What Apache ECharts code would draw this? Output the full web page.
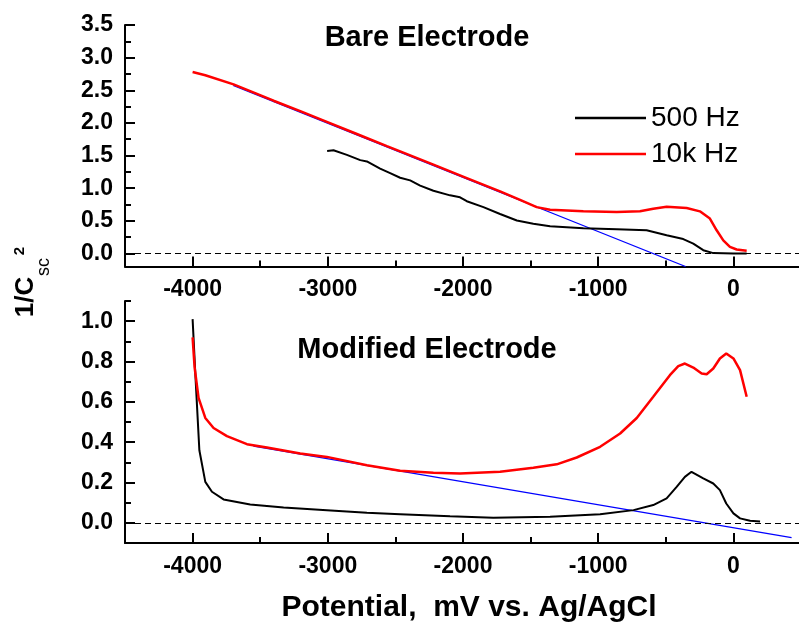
<!DOCTYPE html>
<html>
<head>
<meta charset="utf-8">
<script src="https://cdn.jsdelivr.net/npm/echarts@6/dist/echarts.min.js"></script>
<style>
  html, body { margin: 0; padding: 0; background: #fff; }
  #main { width: 799px; height: 626px; }
</style>
</head>
<body>
<div id="main"></div>
<script>
// tick values
var xMajor = [-4000, -3000, -2000, -1000, 0];
var xMinor = [-3500, -2500, -1500, -500];
var bareYMajor = [0, 0.5, 1.0, 1.5, 2.0, 2.5, 3.0, 3.5];
var bareYMinor = [0.25, 0.75, 1.25, 1.75, 2.25, 2.75, 3.25];
var modYMajor = [0, 0.2, 0.4, 0.6, 0.8, 1.0];
var modYMinor = [0.1, 0.3, 0.5, 0.7, 0.9, 1.1];

// Bare electrode, [potential mV, 1/Csc^2]
var bare500 = [
  [-3005, 1.57], [-2958, 1.58], [-2859, 1.51], [-2760, 1.43], [-2711, 1.41],
  [-2613, 1.30], [-2539, 1.23], [-2465, 1.16], [-2391, 1.12], [-2317, 1.04],
  [-2219, 0.96], [-2096, 0.89], [-2022, 0.86], [-1972, 0.80], [-1849, 0.71],
  [-1726, 0.605], [-1602, 0.505], [-1480, 0.455], [-1356, 0.415], [-1110, 0.385],
  [-863, 0.37], [-642, 0.355], [-494, 0.28], [-371, 0.22], [-297, 0.15],
  [-223, 0.05], [-149, 0.005], [0, 0], [98, 0]
];
var bare10k = [
  [-4000, 2.78], [-3906, 2.73], [-3697, 2.59], [-3524, 2.445], [-3401, 2.34],
  [-3204, 2.18], [-3007, 2.015], [-2785, 1.83], [-2563, 1.645], [-2465, 1.565],
  [-2219, 1.36], [-1972, 1.155], [-1726, 0.95], [-1578, 0.82], [-1455, 0.71],
  [-1356, 0.67], [-1110, 0.645], [-863, 0.635], [-691, 0.645], [-593, 0.685],
  [-494, 0.715], [-346, 0.695], [-248, 0.645], [-174, 0.535], [-124, 0.355],
  [-75, 0.20], [-26, 0.10], [24, 0.06], [98, 0.04]
];
var bareFit = [[-3700, 2.574], [-354, -0.2]];

// Modified electrode
var mod500 = [
  [-4000, 1.01], [-3980, 0.74], [-3950, 0.36], [-3906, 0.203], [-3857, 0.154],
  [-3771, 0.116], [-3574, 0.091], [-3327, 0.076], [-3007, 0.063], [-2711, 0.05],
  [-2465, 0.043], [-2096, 0.033], [-1776, 0.025], [-1356, 0.03], [-986, 0.043],
  [-739, 0.063], [-593, 0.088], [-494, 0.121], [-420, 0.178], [-359, 0.228],
  [-310, 0.253], [-223, 0.22], [-149, 0.195], [-100, 0.162], [-53, 0.096],
  [0, 0.047], [49, 0.022], [123, 0.01], [197, 0.007]
];
var mod10k = [
  [-4000, 0.92], [-3985, 0.77], [-3956, 0.62], [-3906, 0.52], [-3845, 0.47],
  [-3746, 0.43], [-3598, 0.39], [-3450, 0.374], [-3204, 0.344], [-3007, 0.327],
  [-2711, 0.286], [-2465, 0.258], [-2219, 0.248], [-2022, 0.245], [-1726, 0.253],
  [-1480, 0.273], [-1307, 0.29], [-1159, 0.324], [-986, 0.377], [-838, 0.443],
  [-715, 0.52], [-593, 0.625], [-470, 0.732], [-408, 0.777], [-359, 0.79],
  [-297, 0.77], [-235, 0.74], [-198, 0.737], [-149, 0.765], [-100, 0.815],
  [-53, 0.84], [0, 0.815], [49, 0.757], [98, 0.625]
];
var modFit = [[-3550, 0.38], [430, -0.073]];

var tickFont = { fontFamily: 'Liberation Sans', fontWeight: 'bold', fontSize: 23, color: '#000' };

function xAxis(grid, ticks, len, showLine) {
  return {
    type: 'value', gridIndex: grid, position: 'bottom', min: -4500, max: 485,
    splitLine: { show: false },
    axisLine: { show: showLine, onZero: false, lineStyle: { color: '#000', width: 2 } },
    axisTick: { inside: true, length: len, customValues: ticks, lineStyle: { color: '#000', width: 2 } },
    axisLabel: Object.assign({ show: showLine, margin: 12, customValues: ticks,
      formatter: function (v) { return String(v); } }, tickFont)
  };
}
function yAxis(grid, min, max, ticks, len, showLine) {
  return {
    type: 'value', gridIndex: grid, position: 'left', min: min, max: max,
    splitLine: { show: false },
    axisLine: { show: showLine, onZero: false, lineStyle: { color: '#000', width: 2 } },
    axisTick: { inside: true, length: len, customValues: ticks, lineStyle: { color: '#000', width: 2 } },
    axisLabel: Object.assign({ show: showLine, margin: 12, customValues: ticks,
      formatter: function (v) { return v.toFixed(1); } }, tickFont)
  };
}

var zeroLine = {
  silent: true, symbol: 'none', label: { show: false },
  lineStyle: { color: '#000', type: [6, 4], width: 1.2 },
  data: [{ yAxis: 0 }]
};

function line(name, data, xi, color, width, extra) {
  return Object.assign({
    type: 'line', name: name, data: data, xAxisIndex: xi, yAxisIndex: xi,
    showSymbol: false, symbol: 'none', smooth: false, color: color,
    lineStyle: { color: color, width: width }
  }, extra || {});
}

var chart = echarts.init(document.getElementById('main'));
chart.setOption({
  animation: false,
  grid: [
    { left: 125, top: 25, width: 674, height: 241.5 },
    { left: 125, top: 301, width: 674, height: 242 }
  ],
  xAxis: [
    xAxis(0, xMajor, 10, true), xAxis(1, xMajor, 10, true),
    xAxis(0, xMinor, 6, false), xAxis(1, xMinor, 6, false)
  ],
  yAxis: [
    yAxis(0, -0.2, 3.5, bareYMajor, 10, true), yAxis(1, -0.1, 1.1, modYMajor, 10, true),
    yAxis(0, -0.2, 3.5, bareYMinor, 6, false), yAxis(1, -0.1, 1.1, modYMinor, 6, false)
  ],
  legend: {
    data: ['500 Hz', '10k Hz'], orient: 'vertical', left: 570, top: 99,
    icon: 'rect', itemWidth: 71, itemHeight: 2.5, itemGap: 8,
    textStyle: { fontFamily: 'Liberation Sans', fontSize: 28, color: '#000' }
  },
  series: [
    line('fit bare', bareFit, 0, '#0000ff', 1.2),
    line('500 Hz', bare500, 0, '#000000', 2, { markLine: zeroLine }),
    line('10k Hz', bare10k, 0, '#ff0000', 2.5),
    line('fit modified', modFit, 1, '#0000ff', 1.2),
    line('500 Hz', mod500, 1, '#000000', 2, { markLine: zeroLine }),
    line('10k Hz', mod10k, 1, '#ff0000', 2.5)
  ],
  graphic: [
    { type: 'text', x: 427, y: 38, style: { text: 'Bare Electrode', fontFamily: 'Liberation Sans',
      fontWeight: 'bold', fontSize: 29, fill: '#000', align: 'center', verticalAlign: 'middle' } },
    { type: 'text', x: 427, y: 350, style: { text: 'Modified Electrode', fontFamily: 'Liberation Sans',
      fontWeight: 'bold', fontSize: 29, fill: '#000', align: 'center', verticalAlign: 'middle' } },
    { type: 'text', x: 469, y: 608, style: { text: 'Potential,  mV vs. Ag/AgCl', fontFamily: 'Liberation Sans',
      fontWeight: 'bold', fontSize: 30, fill: '#000', align: 'center', verticalAlign: 'middle' } },
    { type: 'text', x: 26, y: 297, rotation: Math.PI / 2, style: { text: '1/C', fontFamily: 'Liberation Sans',
      fontWeight: 'bold', fontSize: 26, fill: '#000', align: 'center', verticalAlign: 'middle' } },
    { type: 'text', x: 44, y: 267, rotation: Math.PI / 2, style: { text: 'sc', fontFamily: 'Liberation Sans',
      fontSize: 18, fill: '#000', align: 'center', verticalAlign: 'middle' } },
    { type: 'text', x: 20, y: 251, rotation: Math.PI / 2, style: { text: '2', fontFamily: 'Liberation Sans',
      fontWeight: 'bold', fontSize: 15, fill: '#000', align: 'center', verticalAlign: 'middle' } }
  ]
});
</script>
</body>
</html>
